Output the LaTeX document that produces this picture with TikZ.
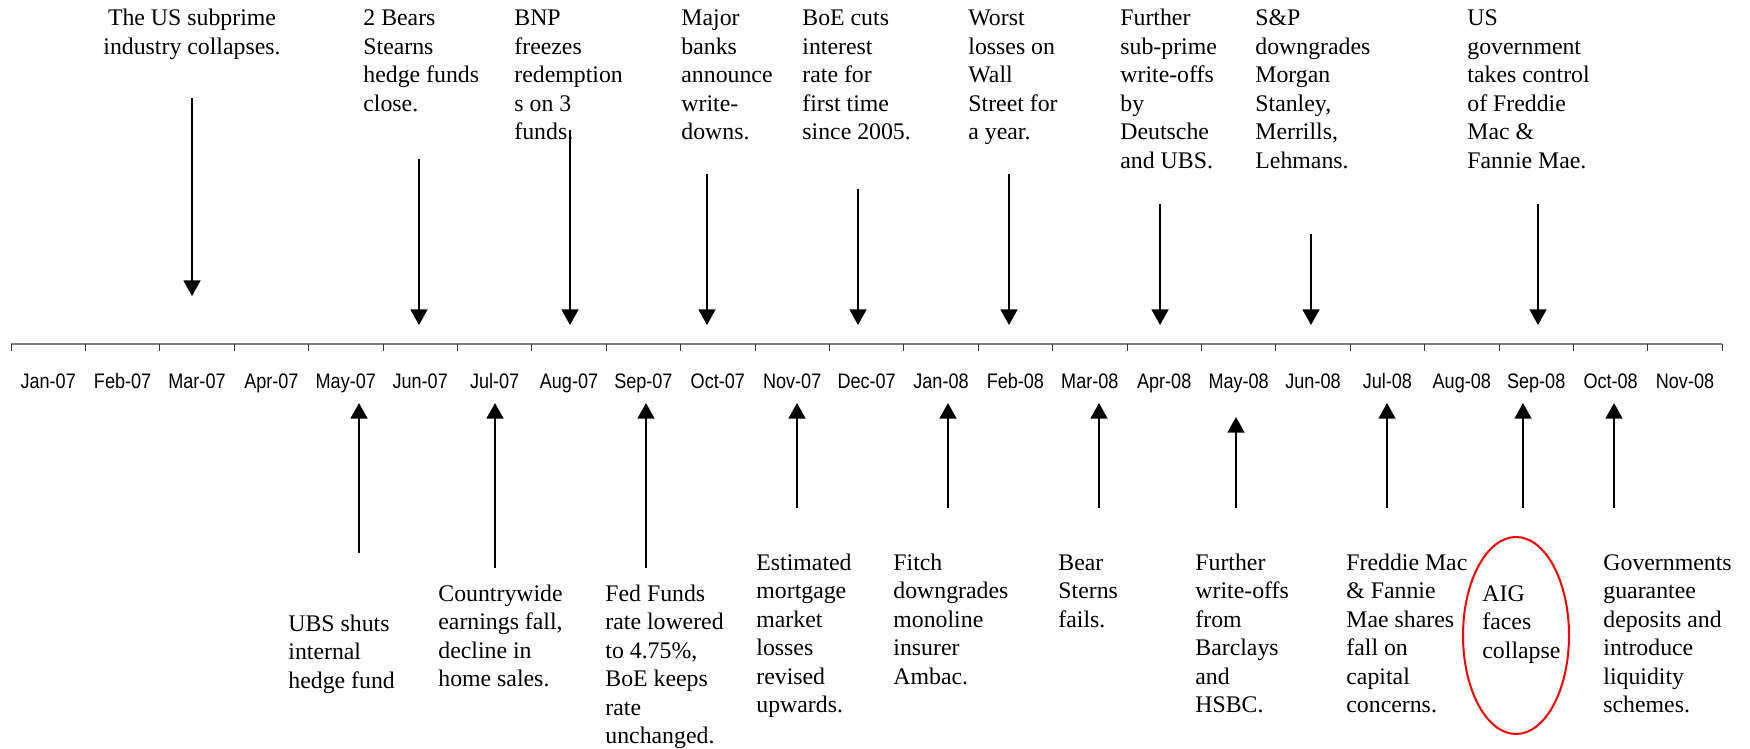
\documentclass[tikz,border=0pt]{standalone}
\usepackage{graphicx}
\usepackage{fontspec}
\setmainfont{Liberation Serif}
\newfontfamily\axisfont{Liberation Sans}
\usetikzlibrary{arrows.meta,shapes.geometric}
\newcommand{\evtext}[2][l]{{\fontsize{11.9pt}{14.25pt}\selectfont\begin{tabular}[t]{@{}#1@{}}#2\end{tabular}}}
\newcommand{\monthlabel}[1]{\scalebox{0.86}[1]{#1}}
\begin{document}
\begin{tikzpicture}[x=0.5pt,y=-0.5pt,
  ev/.style={inner sep=0pt, anchor=base west},
  evc/.style={inner sep=0pt, anchor=base},
  month/.style={inner sep=0pt, anchor=base, font=\axisfont\fontsize{10.5pt}{12pt}\selectfont},
  evarrow/.style={line width=1.1pt, -{Triangle[width=8.4pt,length=7.8pt]}},
  axisline/.style={draw=black!50, line width=0.9pt},
  tickmark/.style={draw=black!80, line width=0.5pt},
  hilite/.style={ellipse, draw=red, line width=1pt, inner sep=0pt, minimum width=53pt, minimum height=98.5pt}]
\useasboundingbox (0,0) rectangle (1750,749);

% axis
\coordinate (axL) at (11,344);
\coordinate (axR) at (1722,344);
\draw[axisline] (axL) -- (axR);
\foreach \i in {0,...,23} \draw[tickmark] ({11+\i*74.4},344) -- ({11+\i*74.4},351);
\foreach \m [count=\i from 0] in {Jan-07,Feb-07,Mar-07,Apr-07,May-07,Jun-07,Jul-07,Aug-07,Sep-07,Oct-07,Nov-07,Dec-07,Jan-08,Feb-08,Mar-08,Apr-08,May-08,Jun-08,Jul-08,Aug-08,Sep-08,Oct-08,Nov-08}
  \node[month] (m\i) at ({11+(\i+0.5)*74.4},388) {\monthlabel{\m}};

% top events
\node[evc] (e1) at (192,26) {\evtext[c]{The US subprime\\industry collapses.}};
\node[ev] (e2) at (363,26) {\evtext{2 Bears\\Stearns\\hedge funds\\close.}};
\node[ev] (e3) at (514,26) {\evtext{BNP\\freezes\\redemption\\s on 3\\funds.}};
\node[ev] (e4) at (681,26) {\evtext{Major\\banks\\announce\\write-\\downs.}};
\node[ev] (e5) at (802,26) {\evtext{BoE cuts\\interest\\rate for\\first time\\since 2005.}};
\node[ev] (e6) at (968,26) {\evtext{Worst\\losses on\\Wall\\Street for\\a year.}};
\node[ev] (e7) at (1120,26) {\evtext{Further\\sub-prime\\write-offs\\by\\Deutsche\\and UBS.}};
\node[ev] (e8) at (1255,26) {\evtext{S\&P\\downgrades\\Morgan\\Stanley,\\Merrills,\\Lehmans.}};
\node[ev] (e9) at (1467,26) {\evtext{US\\government\\takes control\\of Freddie\\Mac \&\\Fannie Mae.}};

% bottom events
\node[ev] (b1) at (288,631) {\evtext{UBS shuts\\internal\\hedge fund}};
\node[ev] (b2) at (438,601) {\evtext{Countrywide\\earnings fall,\\decline in\\home sales.}};
\node[ev] (b3) at (605,601) {\evtext{Fed Funds\\rate lowered\\to 4.75\%,\\BoE keeps\\rate\\unchanged.}};
\node[ev] (b4) at (756,570) {\evtext{Estimated\\mortgage\\market\\losses\\revised\\upwards.}};
\node[ev] (b5) at (893,570) {\evtext{Fitch\\downgrades\\monoline\\insurer\\Ambac.}};
\node[ev] (b6) at (1058,570) {\evtext{Bear\\Sterns\\fails.}};
\node[ev] (b7) at (1195,570) {\evtext{Further\\write-offs\\from\\Barclays\\and\\HSBC.}};
\node[ev] (b8) at (1346,570) {\evtext{Freddie Mac\\\& Fannie\\Mae shares\\fall on\\capital\\concerns.}};
\node[ev] (b9) at (1482,601) {\evtext{AIG\\faces\\collapse}};
\node[ev] (b10) at (1603,570) {\evtext{Governments\\guarantee\\deposits and\\introduce\\liquidity\\schemes.}};

\node[hilite] (aig) at (1516,635.5) {};

% down arrows
\foreach \x/\a/\b [count=\k] in {192/98/296,419/159/325,570/130/325,707/174/325,858/189/325,1009/174/325,1160/204/325,1311/234/325,1538/204/325}{
  \coordinate (ts\k) at (\x,\a);
  \coordinate (te\k) at (\x,\b);
  \draw[evarrow] (ts\k) -- (te\k);
}
% up arrows
\foreach \x/\a/\b [count=\k] in {359/553/403,495/568/403,646/568/403,797/508/403,948/508/403,1099/508/403,1236/508/417,1387/508/403,1523/508/403,1614/508/403}{
  \coordinate (us\k) at (\x,\a);
  \coordinate (ue\k) at (\x,\b);
  \draw[evarrow] (us\k) -- (ue\k);
}
\end{tikzpicture}
\end{document}
